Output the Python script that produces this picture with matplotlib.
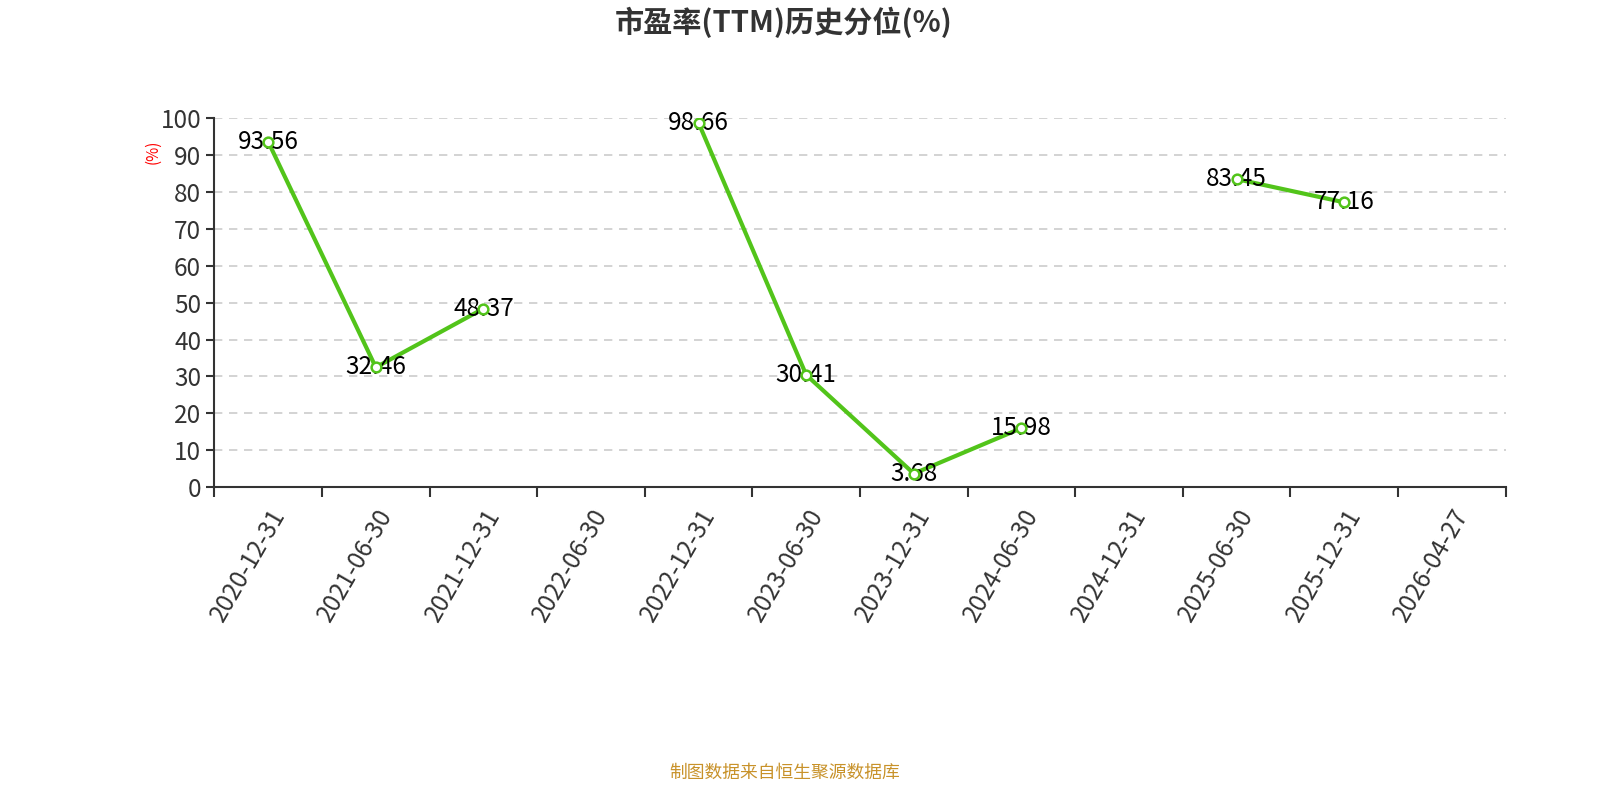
import numpy as np
import matplotlib
matplotlib.use("Agg")
import matplotlib.pyplot as plt

plt.rcParams['font.family'] = ['Noto Sans CJK SC', 'DejaVu Sans']

dates = ['2020-12-31', '2021-06-30', '2021-12-31', '2022-06-30', '2022-12-31', '2023-06-30',
         '2023-12-31', '2024-06-30', '2024-12-31', '2025-06-30', '2025-12-31', '2026-04-27']
pe_pct = [93.56, 32.46, 48.37, np.nan, 98.66, 30.41, 3.68, 15.98, np.nan, 83.45, 77.16, np.nan]

fig = plt.figure(figsize=(16, 8), dpi=100)
ax = fig.add_axes([0.134, 0.391, 0.807, 0.4615])

x = np.arange(len(dates))
green = '#52c41a'
ax.plot(x, pe_pct, color=green, lw=3, zorder=3)
for xi, v in zip(x, pe_pct):
    if np.isnan(v):
        continue
    ax.text(xi, v, f'{v:.2f}', ha='center', va='center', fontsize=17.5, color='black', zorder=4)
ax.plot(x, pe_pct, ls='none', marker='o', ms=7, mfc='white', mec=green, mew=1.8, zorder=5)

ax.set_xlim(-0.5, len(dates) - 0.5)
ax.set_ylim(0, 100)
ax.set_yticks(range(0, 101, 10))
ax.tick_params(axis='y', labelsize=17.5, labelcolor='#333333', color='#333333', length=6, width=1.5)
ax.set_xticks(x)
ax.set_xticklabels(dates, rotation=60, ha='right', va='top', rotation_mode='anchor',
                   fontsize=17.5, color='#333333')
ax.tick_params(axis='x', which='major', length=0, pad=12)
ax.set_xticks(np.arange(-0.5, len(dates)), minor=True)
ax.tick_params(axis='x', which='minor', length=7, width=1.5, color='#333333')

ax.grid(axis='y', ls=(0, (5, 4)), color='#cccccc', lw=1.2)
ax.set_axisbelow(True)
for s in ['top', 'right']:
    ax.spines[s].set_visible(False)
for s in ['left', 'bottom']:
    ax.spines[s].set_color('#333333')
    ax.spines[s].set_linewidth(1.5)

fig.text(153 / 1600, 1 - 152 / 800, '(%)', color='red', fontsize=11, rotation=90, ha='center', va='center')
fig.text(784 / 1600, 1 - 22 / 800, '市盈率(TTM)历史分位(%)', fontsize=21, fontweight='bold', color='#333333',
         ha='center', va='center')
fig.text(785 / 1600, 1 - 773 / 800, '制图数据来自恒生聚源数据库', fontsize=12.8, color='#c8922a',
         ha='center', va='center')

fig.savefig('out.png', dpi=100)
